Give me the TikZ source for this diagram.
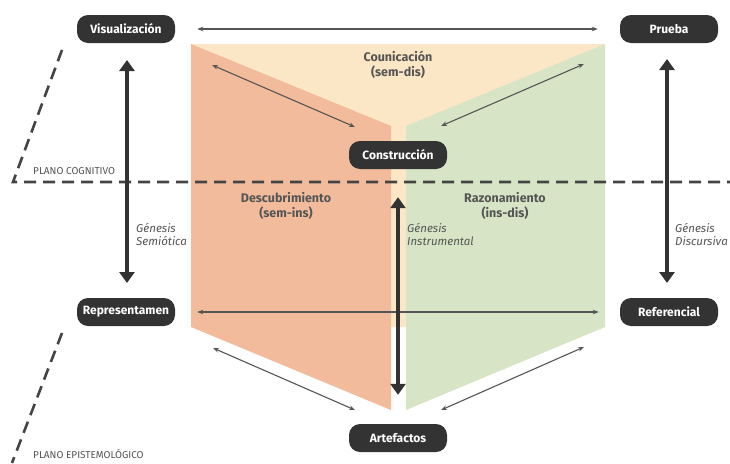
\documentclass[tikz,border=0pt]{standalone}
\usepackage{fontspec}
\setmainfont{Fira Sans}
\usetikzlibrary{arrows.meta}
\definecolor{peach}{HTML}{F2BC9C}
\definecolor{cream}{HTML}{FBE6C6}
\definecolor{sage}{HTML}{D7E5C6}
\definecolor{pill}{HTML}{333333}
\definecolor{ink}{HTML}{555555}
\definecolor{dashcol}{HTML}{444444}
\begin{document}
\begin{tikzpicture}[x=1pt,y=-1pt,
  pillnode/.style={fill=pill, rounded corners=11pt, minimum width=98pt, minimum height=28pt, text=white, font=\bfseries\fontsize{12}{14}\selectfont, inner sep=0pt},
  lbl/.style={text=ink, font=\bfseries\fontsize{12.5}{14.5}\selectfont, align=center, inner sep=0pt},
  gen/.style={text=ink, font=\itshape\fontsize{11.5}{13}\selectfont, align=left, inner sep=0pt, anchor=west},
  plane/.style={text=ink, font=\fontsize{10}{11}\selectfont, inner sep=0pt, anchor=west},
  thin/.style={draw=ink, line width=1.1pt, {Stealth[length=6pt,width=4.5pt]}-{Stealth[length=6pt,width=4.5pt]}},
  thick/.style={draw=pill, line width=3.2pt, {Triangle[length=11pt,width=15pt]}-{Triangle[length=11pt,width=15pt]}},
  dashline/.style={draw=dashcol, line width=2.6pt, dash pattern=on 12pt off 7pt}
]
\useasboundingbox (0,0) rectangle (730,463);
\fill[white] (0,0) rectangle (730,463);
% planes
\fill[cream] (191,44) -- (605,44) -- (406,327) -- (391,327) -- cycle;
\fill[peach] (191,44) -- (391,126) -- (391,410) -- (191,327) -- cycle;
\fill[sage] (406,126) -- (605,44) -- (605,327) -- (406,410) -- cycle;
% dashed lines
\coordinate (d0) at (13,182);
\coordinate (d1) at (730,182);
\coordinate (d2) at (62,50);
\coordinate (d3) at (62,333);
\coordinate (d4) at (12,463);
\draw[dashline] (d2) -- (d0) -- (d1);
\draw[dashline] (d3) -- (d4);
% nodes
\node[pillnode] (vis) at (126,29) {Visualización};
\node[pillnode] (pru) at (669,29) {Prueba};
\node[pillnode] (con) at (398,155) {Construcción};
\node[pillnode] (rep) at (126,312) {Representamen};
\node[pillnode] (ref) at (669,312) {Referencial};
\node[pillnode] (art) at (398,438) {Artefactos};
% labels
\node[lbl] (com) at (398,65) {Counicación\\(sem-dis)};
\node[lbl] (des) at (286,206) {Descubrimiento\\(sem-ins)};
\node[lbl] (raz) at (505,206) {Razonamiento\\(ins-dis)};
\node[gen] (gs) at (136,234) {Génesis\\Semiótica};
\node[gen] (gi) at (407,234) {Génesis\\Instrumental};
\node[gen] (gd) at (675,234) {Génesis\\Discursiva};
\node[plane] (pc) at (33,171) {PLANO COGNITIVO};
\node[plane] (pe) at (33,454) {PLANO EPISTEMOLÓGICO};
% thin arrows
\draw[thin, shorten <=22pt, shorten >=22pt] (vis) -- (pru);
\draw[thin, shorten <=22pt, shorten >=21pt] (rep) -- (ref);
\coordinate (a1) at (212,65);  \coordinate (a2) at (355,127);
\coordinate (a3) at (441,126); \coordinate (a4) at (584,64);
\coordinate (a5) at (213,348); \coordinate (a6) at (355,410);
\coordinate (a7) at (441,410); \coordinate (a8) at (584,347);
\draw[thin] (a1) -- (a2);
\draw[thin] (a3) -- (a4);
\draw[thin] (a5) -- (a6);
\draw[thin] (a7) -- (a8);
% thick arrows
\draw[thick, shorten <=31pt, shorten >=29pt] ([xshift=1pt]vis.center) -- ([xshift=1pt]rep.center);
\draw[thick, shorten <=30pt, shorten >=29pt] ([xshift=-2pt]pru.center) -- ([xshift=-2pt]ref.center);
\draw[thick, shorten <=28pt, shorten >=29pt] (con) -- (art);
\end{tikzpicture}
\end{document}
